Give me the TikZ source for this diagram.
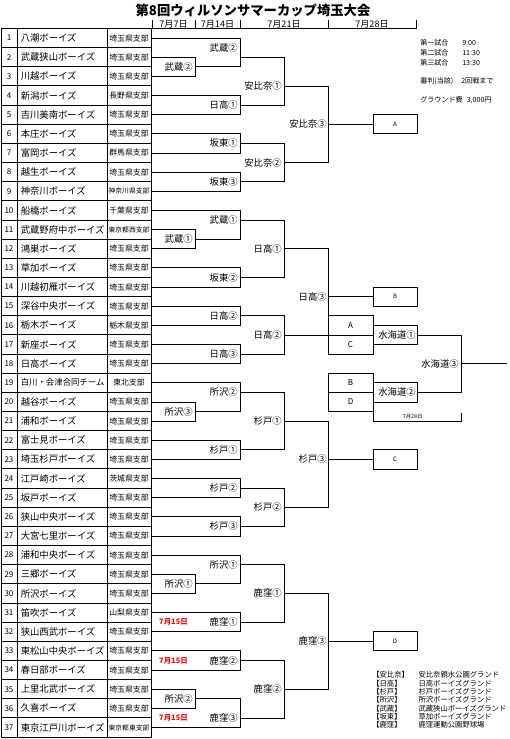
\documentclass[tikz,border=0pt]{standalone}
\usepackage{fontspec}
\setmainfont{Noto Sans CJK JP}
\definecolor{datered}{RGB}{230,20,20}
% y of half-row k of the table
\newcommand{\yk}[1]{28.5+9.575*(#1)}
% one match: top input from #1, right edge #2, rows #3/#4, bottom input from #5
\newcommand{\game}[5]{\draw[line] (#1,{\yk{#3}}) -- (#2,{\yk{#3}}) -- (#2,{\yk{#4}}) -- (#5,{\yk{#4}});}
\newcommand{\brsmall}[1]{{\fontsize{5.1}{6}\selectfont #1}}

\begin{document}
\begin{tikzpicture}[x=0.75pt,y=0.75pt,yscale=-1,xscale=1,
  line/.style={line width=0.6pt},
  tbl/.style={line width=0.7pt},
  numtxt/.style={inner sep=0pt,font=\fontsize{6}{7}\selectfont},
  teamtxt/.style={anchor=west,inner sep=0pt,font=\fontsize{7}{8}\selectfont},
  brtxt/.style={inner sep=0pt,font=\fontsize{5.9}{7}\selectfont},
  rlab/.style={anchor=east,inner sep=0pt,font=\fontsize{7}{8}\selectfont},
  datetxt/.style={inner sep=0pt,font=\fontsize{6.8}{8}\selectfont},
  infotxt/.style={anchor=west,inner sep=0pt,font=\fontsize{5.3}{6}\selectfont},
  legtxt/.style={anchor=west,inner sep=0pt,font=\fontsize{5.5}{6}\selectfont},
  redtxt/.style={inner sep=0pt,text=datered,font=\bfseries\fontsize{5.6}{6}\selectfont},
  resbox/.style={draw,line width=0.6pt,minimum width=33pt,minimum height=14.36pt,inner sep=0pt,font=\fontsize{4.5}{5}\selectfont},
  lettxt/.style={inner sep=0pt,font=\fontsize{6}{7}\selectfont}]
\useasboundingbox (0,0) rectangle (510,739);

% Title
\node[inner sep=0pt,font=\bfseries\fontsize{10}{12}\selectfont] (title) at (253,10) {第8回ウィルソンサマーカップ埼玉大会};

% Header with dates
\draw[line] (151,28.5) -- (416,28.5);
\foreach \x in {152,195,240,328,416} \draw[line] (\x,20) -- (\x,28.5);
\node[datetxt] (d1) at (173.5,24) {7月7日};
\node[datetxt] (d2) at (217.5,24) {7月14日};
\node[datetxt] (d3) at (284,24) {7月21日};
\node[datetxt] (d4) at (372,24) {7月28日};

% Table of teams
\draw[tbl] (1,28.5) rectangle (151,{\yk{74}});
\foreach \k in {2,4,...,72} \draw[tbl] (1,{\yk{\k}}) -- (151,{\yk{\k}});
\draw[tbl] (17,28.5) -- (17,{\yk{74}});
\draw[tbl] (107,28.5) -- (107,{\yk{74}});
\foreach \n/\team/\branch in {
  1/八潮ボーイズ/埼玉県支部, 2/武蔵狭山ボーイズ/埼玉県支部, 3/川越ボーイズ/埼玉県支部,
  4/新潟ボーイズ/長野県支部, 5/吉川美南ボーイズ/埼玉県支部, 6/本庄ボーイズ/埼玉県支部,
  7/富岡ボーイズ/群馬県支部, 8/越生ボーイズ/埼玉県支部, 9/神奈川ボーイズ/\brsmall{神奈川県支部},
  10/船橋ボーイズ/千葉県支部, 11/武蔵野府中ボーイズ/\brsmall{東京都西支部}, 12/鴻巣ボーイズ/埼玉県支部,
  13/草加ボーイズ/埼玉県支部, 14/川越初雁ボーイズ/埼玉県支部, 15/深谷中央ボーイズ/埼玉県支部,
  16/栃木ボーイズ/栃木県支部, 17/新座ボーイズ/埼玉県支部, 18/日高ボーイズ/埼玉県支部,
  19/{\fontsize{6.3}{7}\selectfont 白川・会津合同チーム}/東北支部, 20/越谷ボーイズ/埼玉県支部, 21/浦和ボーイズ/埼玉県支部,
  22/富士見ボーイズ/埼玉県支部, 23/埼玉杉戸ボーイズ/埼玉県支部, 24/江戸崎ボーイズ/茨城県支部,
  25/坂戸ボーイズ/埼玉県支部, 26/狭山中央ボーイズ/埼玉県支部, 27/大宮七里ボーイズ/埼玉県支部,
  28/浦和中央ボーイズ/埼玉県支部, 29/三郷ボーイズ/埼玉県支部, 30/所沢ボーイズ/埼玉県支部,
  31/笛吹ボーイズ/山梨県支部, 32/狭山西武ボーイズ/埼玉県支部, 33/東松山中央ボーイズ/埼玉県支部,
  34/春日部ボーイズ/埼玉県支部, 35/上里北武ボーイズ/埼玉県支部, 36/久喜ボーイズ/埼玉県支部,
  37/東京江戸川ボーイズ/\brsmall{東京都東支部}} {
  \node[numtxt] (n\n) at (9,{\yk{2*\n-1}}) {\n};
  \node[teamtxt] (t\n) at (20.5,{\yk{2*\n-1}}) {\team};
  \node[brtxt] (b\n) at (129,{\yk{2*\n-1}}) {\branch};
}

% 1st round (7/7)
\game{151}{195}{3}{5}{151}
\game{151}{195}{21}{23}{151}
\game{151}{195}{39}{41}{151}
\game{151}{195}{57}{59}{151}
\game{151}{195}{69}{71}{151}
\node[rlab] (r1a) at (193,{\yk{4}}) {武蔵②};
\node[rlab] (r1b) at (193,{\yk{22}}) {武蔵①};
\node[rlab] (r1c) at (193,{\yk{40}}) {所沢③};
\node[rlab] (r1d) at (193,{\yk{58}}) {所沢①};
\node[rlab] (r1e) at (193,{\yk{70}}) {所沢②};

% 2nd round (7/14)
\game{151}{240}{1}{4}{195}
\game{151}{240}{7}{9}{151}
\game{151}{240}{11}{13}{151}
\game{151}{240}{15}{17}{151}
\game{151}{240}{19}{22}{195}
\game{151}{240}{25}{27}{151}
\game{151}{240}{29}{31}{151}
\game{151}{240}{33}{35}{151}
\game{151}{240}{37}{40}{195}
\game{151}{240}{43}{45}{151}
\game{151}{240}{47}{49}{151}
\game{151}{240}{51}{53}{151}
\game{151}{240}{55}{58}{195}
\game{151}{240}{61}{63}{151}
\game{151}{240}{65}{67}{151}
\game{195}{240}{70}{73}{151}
\node[rlab] (r2a) at (238,{\yk{2}}) {武蔵②};
\node[rlab] (r2b) at (238,{\yk{8}}) {日高①};
\node[rlab] (r2c) at (238,{\yk{12}}) {坂東①};
\node[rlab] (r2d) at (238,{\yk{16}}) {坂東③};
\node[rlab] (r2e) at (238,{\yk{20}}) {武蔵①};
\node[rlab] (r2f) at (238,{\yk{26}}) {坂東②};
\node[rlab] (r2g) at (238,{\yk{30}}) {日高②};
\node[rlab] (r2h) at (238,{\yk{34}}) {日高③};
\node[rlab] (r2i) at (238,{\yk{38}}) {所沢②};
\node[rlab] (r2j) at (238,{\yk{44}}) {杉戸①};
\node[rlab] (r2k) at (238,{\yk{48}}) {杉戸②};
\node[rlab] (r2l) at (238,{\yk{52}}) {杉戸③};
\node[rlab] (r2m) at (238,{\yk{56}}) {所沢①};
\node[rlab] (r2n) at (238,{\yk{62}}) {鹿窪①};
\node[rlab] (r2o) at (238,{\yk{66}}) {鹿窪②};
\node[rlab] (r2p) at (238,{\yk{72}}) {鹿窪③};
\node[redtxt] (late1) at (173.5,{\yk{62}}) {7月15日};
\node[redtxt] (late2) at (173.5,{\yk{66}}) {7月15日};
\node[redtxt] (late3) at (173.5,{\yk{72}}) {7月15日};

% 3rd round (7/21)
\game{240}{284}{3}{8}{240}
\game{240}{284}{12}{16}{240}
\game{240}{284}{20}{26}{240}
\game{240}{284}{30}{34}{240}
\game{240}{284}{38}{44}{240}
\game{240}{284}{48}{52}{240}
\game{240}{284}{56}{62}{240}
\game{240}{284}{66}{72}{240}
\node[rlab] (r3a) at (282,{\yk{6}}) {安比奈①};
\node[rlab] (r3b) at (282,{\yk{14}}) {安比奈②};
\node[rlab] (r3c) at (282,{\yk{23}}) {日高①};
\node[rlab] (r3d) at (282,{\yk{32}}) {日高②};
\node[rlab] (r3e) at (282,{\yk{41}}) {杉戸①};
\node[rlab] (r3f) at (282,{\yk{50}}) {杉戸②};
\node[rlab] (r3g) at (282,{\yk{59}}) {鹿窪①};
\node[rlab] (r3h) at (282,{\yk{69}}) {鹿窪②};

% 4th round (7/21)
\game{284}{328}{6}{14}{284}
\game{284}{328}{23}{32}{284}
\game{284}{328}{41}{50}{284}
\game{284}{328}{59}{69}{284}
\node[rlab] (r4a) at (327,{\yk{10}}) {安比奈③};
\node[rlab] (r4b) at (327,{\yk{28}}) {日高③};
\node[rlab] (r4c) at (327,{\yk{45}}) {杉戸③};
\node[rlab] (r4d) at (327,{\yk{64}}) {鹿窪③};
\node[resbox] (boxA) at (395,{\yk{10}}) {A};
\node[resbox] (boxB) at (395,{\yk{28}}) {B};
\node[resbox] (boxC) at (395,{\yk{45}}) {C};
\node[resbox] (boxD) at (395,{\yk{64}}) {D};
\draw[line] (328,{\yk{10}}) -- (boxA.west);
\draw[line] (328,{\yk{28}}) -- (boxB.west);
\draw[line] (328,{\yk{45}}) -- (boxC.west);
\draw[line] (328,{\yk{64}}) -- (boxD.west);

% Semi-finals and final (7/28)
\draw[line] (328,{\yk{30}}) rectangle (373,{\yk{34}});
\draw[line] (328,{\yk{32}}) -- (373,{\yk{32}});
\draw[line] (328,{\yk{36}}) rectangle (373,{\yk{40}});
\draw[line] (328,{\yk{38}}) -- (373,{\yk{38}});
\node[lettxt] (sA) at (350.5,{\yk{31}}) {A};
\node[lettxt] (sC) at (350.5,{\yk{33}}) {C};
\node[lettxt] (sB) at (350.5,{\yk{37}}) {B};
\node[lettxt] (sD) at (350.5,{\yk{39}}) {D};
\game{373}{417}{31}{33}{373}
\game{373}{417}{37}{39}{373}
\game{417}{461}{32}{38}{417}
\draw[line] (461,{\yk{35}}) -- (507,{\yk{35}});
\node[rlab] (s1) at (416,{\yk{32}}) {水海道①};
\node[rlab] (s2) at (416,{\yk{38}}) {水海道②};
\node[rlab] (fin) at (459,{\yk{35}}) {水海道③};
\draw[line] (373,{\yk{39}}) -- (373,{\yk{41}}) -- (461,{\yk{41}}) -- (461,413);
\node[inner sep=0pt,font=\fontsize{4}{5}\selectfont] (d28) at (412.7,416.5) {7月28日};

% Notes
\node[infotxt] (i1) at (420,43.3) {第一試合};
\node[infotxt] (i1t) at (462,43.3) {9:00};
\node[infotxt] (i2) at (420,53) {第二試合};
\node[infotxt] (i2t) at (462,53) {11:30};
\node[infotxt] (i3) at (420,63) {第三試合};
\node[infotxt] (i3t) at (462,63) {13:30};
\node[infotxt] (i4) at (420,81) {審判(当該)};
\node[infotxt] (i4t) at (461,81) {2回戦まで};
\node[infotxt] (i5) at (420,100) {グラウンド費};
\node[infotxt] (i5t) at (466.5,100) {3,000円};

% Grounds
\foreach \j/\key/\place in {0/安比奈/安比奈親水公園グランド, 1/日高/日高ボーイズグランド,
  2/杉戸/杉戸ボーイズグランド, 3/所沢/所沢ボーイズグランド, 4/武蔵/武蔵狭山ボーイズグランド,
  5/坂東/草加ボーイズグランド, 6/鹿窪/鹿窪運動公園野球場} {
  \node[legtxt] (gk\j) at (372,{675+8.33*\j}) {【\key】};
  \node[legtxt] (gp\j) at (418.3,{675+8.33*\j}) {\place};
}
\end{tikzpicture}
\end{document}
